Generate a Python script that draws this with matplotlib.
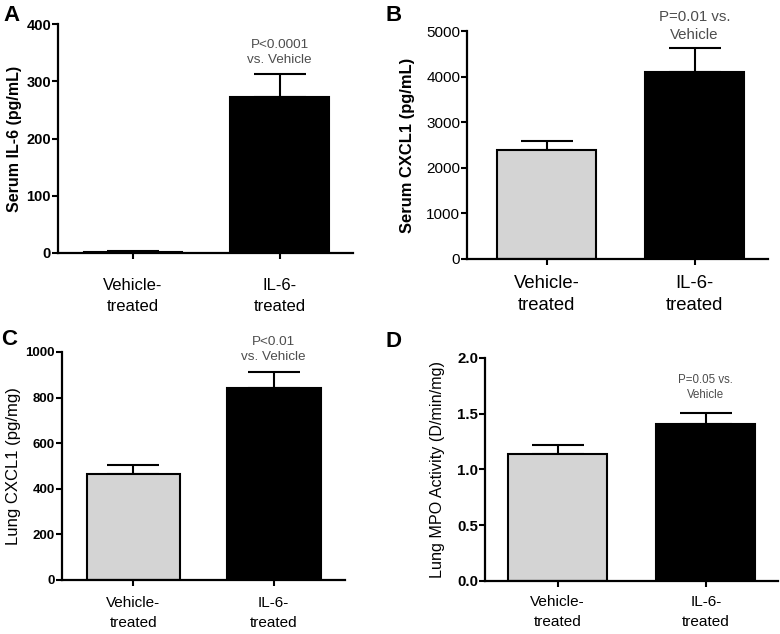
import matplotlib
matplotlib.use("Agg")
import matplotlib.pyplot as plt

plt.rcParams['font.family'] = ['Liberation Sans', 'DejaVu Sans']

groups = ["Vehicle-\ntreated", "IL-6-\ntreated"]
bar_colors = ["#d4d4d4", "#000000"]

il6_serum = [2, 273]
il6_serum_err = [1, 40]
cxcl1_serum = [2400, 4100]
cxcl1_serum_err = [190, 520]
cxcl1_lung = [463, 840]
cxcl1_lung_err = [40, 72]
mpo_lung = [1.14, 1.41]
mpo_lung_err = [0.075, 0.10]

panels = [
    dict(letter="A", vals=il6_serum, errs=il6_serum_err, ylim=400, yticks=[0, 100, 200, 300, 400],
         ticklabels=["0", "100", "200", "300", "400"],
         ylabel="Serum IL-6 (pg/mL)", note="P<0.0001\nvs. Vehicle", note_y=350, note_fs=9.7,
         rect=[0.0744, 0.601, 0.378, 0.361], tbold=True, tfs=10.5, lbold=True, lfs=11.5, lpad=3,
         xfs=12, xls=1.48, xpad=13.8,
         letter_xy=(0.004, 0.975), xlim=(-0.51, 1.50)),
    dict(letter="B", vals=cxcl1_serum, errs=cxcl1_serum_err, ylim=5000,
         yticks=[0, 1000, 2000, 3000, 4000, 5000],
         ticklabels=["0", "1000", "2000", "3000", "4000", "5000"],
         ylabel="Serum CXCL1 (pg/mL)", note="P=0.01 vs.\nVehicle", note_y=5110, note_fs=10.8,
         rect=[0.599, 0.5915, 0.386, 0.3596], tbold=False, tfs=11, lbold=True, lfs=11.9, lpad=8,
         xfs=13.3, xls=1.40, xpad=6.7,
         letter_xy=(0.494, 0.975), xlim=(-0.54, 1.50)),
    dict(letter="C", vals=cxcl1_lung, errs=cxcl1_lung_err, ylim=1000,
         yticks=[0, 200, 400, 600, 800, 1000],
         ticklabels=["0", "200", "400", "600", "800", "1000"],
         ylabel="Lung CXCL1 (pg/mg)", note="P<0.01\nvs. Vehicle", note_y=1013, note_fs=9.7,
         rect=[0.0795, 0.0852, 0.363, 0.3596], tbold=True, tfs=9.5, lbold=False, lfs=12, lpad=3,
         xfs=11, xls=1.54, xpad=6.9,
         letter_xy=(0.002, 0.464), xlim=(-0.51, 1.51)),
    dict(letter="D", vals=mpo_lung, errs=mpo_lung_err, ylim=2.0,
         yticks=[0.0, 0.5, 1.0, 1.5, 2.0],
         ticklabels=["0.0", "0.5", "1.0", "1.5", "2.0"],
         ylabel="Lung MPO Activity (D/min/mg)", note="P=0.05 vs.\nVehicle", note_y=1.731, note_fs=8.3,
         rect=[0.622, 0.0836, 0.376, 0.352], tbold=True, tfs=10.8, lbold=False, lfs=11.6, lpad=9,
         xfs=11.1, xls=1.53, xpad=5.4,
         letter_xy=(0.494, 0.461), xlim=(-0.49, 1.49)),
]

fig = plt.figure(figsize=(7.8, 6.34), dpi=100)

for p in panels:
    ax = fig.add_axes(p["rect"])
    x = [0, 1]
    ax.bar(x, p["vals"], width=0.67, color=bar_colors, edgecolor="black", linewidth=1.5, zorder=2)
    ax.errorbar(x, p["vals"], yerr=[[0, 0], p["errs"]], fmt="none", ecolor="black",
                elinewidth=1.5, capsize=19, capthick=1.5, zorder=1)
    ax.set_xlim(*p["xlim"])
    ax.set_ylim(0, p["ylim"])
    ax.set_yticks(p["yticks"])
    ax.set_yticklabels(p["ticklabels"], fontweight="bold" if p["tbold"] else "normal", fontsize=p["tfs"])
    ax.set_xticks(x)
    ax.set_xticklabels(groups, fontsize=p["xfs"], linespacing=p["xls"])
    for s in ["top", "right"]:
        ax.spines[s].set_visible(False)
    for s in ["left", "bottom"]:
        ax.spines[s].set_linewidth(1.6)
    ax.tick_params(axis="y", direction="out", length=4, width=1.5, pad=1)
    ax.tick_params(axis="x", direction="out", length=4.5, width=1.5, pad=p["xpad"])
    ax.set_ylabel(p["ylabel"], fontsize=p["lfs"], fontweight="bold" if p["lbold"] else "normal",
                  labelpad=p["lpad"])
    ax.text(1, p["note_y"], p["note"], ha="center", va="center", fontsize=p["note_fs"],
            color="#4d4d4d", linespacing=1.33, clip_on=False)
    fig.text(p["letter_xy"][0], p["letter_xy"][1], p["letter"], fontsize=16, fontweight="bold",
             ha="left", va="center")

fig.savefig("out.png", dpi=100)
